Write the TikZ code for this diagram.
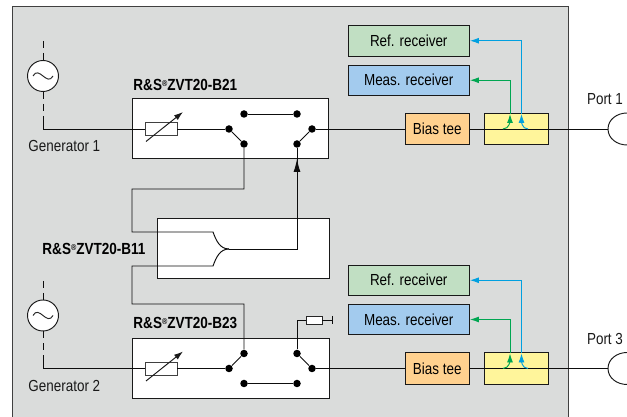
\documentclass[tikz,border=0pt]{standalone}
\usepackage{fontspec}
\setmainfont[FakeStretch=0.84]{Liberation Sans}
\usepackage{xcolor}
\usetikzlibrary{arrows.meta,calc}
\definecolor{panelgray}{RGB}{218,220,219}
\definecolor{refgreen}{RGB}{193,223,195}
\definecolor{measblue}{RGB}{163,203,238}
\definecolor{biasorange}{RGB}{255,209,143}
\definecolor{coupleryellow}{RGB}{255,245,155}
\definecolor{wireblue}{RGB}{0,160,224}
\definecolor{wiregreen}{RGB}{0,166,81}
\newcommand{\zvtlabel}[1]{R\&S\raisebox{0.5ex}{\fontsize{8.5}{9}\selectfont\textregistered}ZVT20-#1}

\begin{document}
\begin{tikzpicture}[x=1pt,y=1pt,line width=0.95pt,
    block/.style={draw=black!90, inner sep=0pt, text=black, font=\fontsize{16}{18}\selectfont, minimum height=30.5pt, align=center},
    module/.style={draw=black!90, fill=white, inner sep=0pt, minimum height=60pt},
    label/.style={inner sep=0pt, text=black!90, font=\fontsize{16}{18}\selectfont},
    optname/.style={inner sep=0pt, anchor=west, text=black, font=\bfseries\fontsize{16.1}{18}\selectfont},
    contact/.style={circle, fill=black, inner sep=0pt, minimum size=7.5pt},
    atten/.style={draw=black!75, fill=white, inner sep=0pt, minimum width=32pt, minimum height=13pt},
    source/.style={circle, draw=black!90, fill=white, inner sep=0pt, minimum size=31pt},
    wire/.style={black!95},
    tip/.style={-{Latex[length=9pt,width=6pt]}},
    bluewire/.style={wireblue, tip},
    greenwire/.style={wiregreen, tip}
]
    \useasboundingbox (0,0) rectangle (627,417);
    % housing
    \fill[panelgray] (12,0) rectangle (568,411);
    \draw[black!75] (12,0) -- (12,411) -- (568,411) -- (568,0);

    % option boxes
    \node[module, minimum width=196.7pt] (bA) at (230.4,288.75) {};
    \node[module, minimum width=171.5pt] (bB) at (243.25,169) {};
    \node[module, minimum width=197pt] (bC) at (230.5,49) {};
    \node[optname] (nameA) at (133,332) {\zvtlabel{B21}};
    \node[optname] (nameB) at (42,168) {\zvtlabel{B11}};
    \node[optname] (nameC) at (133,94) {\zvtlabel{B23}};

    % receivers and couplers
    \node[block, fill=refgreen, minimum width=121.5pt] (refA) at (408.75,376.25) {Ref. receiver};
    \node[block, fill=measblue, minimum width=121.5pt] (measA) at (408.75,336.75) {Meas. receiver};
    \node[block, fill=biasorange, minimum width=64.5pt, minimum height=31.5pt] (teeA) at (437.25,288) {Bias tee};
    \node[block, fill=coupleryellow, minimum width=64.5pt, minimum height=31.5pt] (cplA) at (516.25,288) {};
    \node[block, fill=refgreen, minimum width=121.5pt] (refB) at (408.75,136.75) {Ref. receiver};
    \node[block, fill=measblue, minimum width=121.5pt] (measB) at (408.75,97.5) {Meas. receiver};
    \node[block, fill=biasorange, minimum width=64.5pt, minimum height=31.5pt] (teeB) at (437.25,48.5) {Bias tee};
    \node[block, fill=coupleryellow, minimum width=64.5pt, minimum height=31.5pt] (cplB) at (516.25,48.5) {};

    % generators
    \node[source] (genA) at (43,341) {};
    \node[source] (genB) at (43,101.5) {};
    \draw[black!85] ($(genA)+(-10,0)$) .. controls ($(genA)+(-4,11)$) and ($(genA)+(4,-11)$) .. ($(genA)+(10,0)$);
    \draw[black!85] ($(genB)+(-10,0)$) .. controls ($(genB)+(-4,11)$) and ($(genB)+(4,-11)$) .. ($(genB)+(10,0)$);
    \node[label, anchor=west] (lblA) at (28,271) {Generator 1};
    \node[label, anchor=west] (lblB) at (28,31) {Generator 2};
    \coordinate (topA) at (43,376);
    \coordinate (topB) at (43,136);
    \coordinate (dropA) at (43,297);
    \coordinate (dropB) at (43,57.5);

    % attenuators
    \node[atten] (attA) at (161,288) {};
    \node[atten] (attB) at (161,48.5) {};

    % switch contacts B21
    \node[contact] (a1) at (229,288) {};
    \node[contact] (a2) at (244,273) {};
    \node[contact] (a3) at (244,303) {};
    \node[contact] (a4) at (297,303) {};
    \node[contact] (a5) at (297,273) {};
    \node[contact] (a6) at (312,288) {};
    % switch contacts B23
    \node[contact] (c1) at (229,48.5) {};
    \node[contact] (c2) at (244,63.5) {};
    \node[contact] (c3) at (244,33.5) {};
    \node[contact] (c4) at (297,33.5) {};
    \node[contact] (c5) at (297,63.5) {};
    \node[contact] (c6) at (312,48.5) {};

    % generator feeds
    \draw[wire, dashed, dash pattern=on 7pt off 5pt] (topA) -- (genA);
    \draw[wire, dashed, dash pattern=on 7pt off 5pt] (genA) -- (dropA);
    \draw[wire, dashed, dash pattern=on 7pt off 5pt] (topB) -- (genB);
    \draw[wire, dashed, dash pattern=on 7pt off 5pt] (genB) -- (dropB);
    \draw[wire] (dropA) |- (attA);
    \draw[wire] (dropB) |- (attB);
    \draw[wire] (attA) -- (a1);
    \draw[wire] (attB) -- (c1);
    \draw[wire] (a1) -- (a2);
    \draw[wire] (a3) -- (a4);
    \draw[wire] (a6) -- (a5);
    \draw[wire] (c1) -- (c2);
    \draw[wire] (c3) -- (c4);
    \draw[wire] (c6) -- (c5);
    \draw[tip, black!90] ($(attA)+(-15,-12.5)$) -- ($(attA)+(22,17)$);
    \draw[tip, black!90] ($(attB)+(-15,-12.5)$) -- ($(attB)+(22,17)$);

    % combiner in B11
    \coordinate (hybT) at (213,185);
    \coordinate (hybB) at (213,151);
    \coordinate (hybO) at (229,168);
    \draw[wire] (a2) |- (132,228) |- (hybT) to[out=-70,in=180] (hybO);
    \draw[wire] (c2) |- (132,113) |- (hybB) to[out=70,in=180] (hybO);
    \draw[wire] (hybO) -| (a5);
    \coordinate (upBase) at (297,240);
    \coordinate (upTip) at (297,258);
    \draw[-{Latex[length=13pt,width=7pt]}, black!95] (upBase) -- (upTip);

    % matched termination
    \node[draw=black!85, fill=white, inner sep=0pt, minimum width=16pt, minimum height=8pt] (load) at (314,97) {};
    \coordinate (gnd) at (332.5,97);
    \draw[wire] (c5) |- (load);
    \draw[wire] (load) -- (gnd);
    \draw[wire] ($(gnd)+(0,4)$) -- ($(gnd)+(0,-4)$);

    % through path
    \coordinate (portA) at (608,288);
    \coordinate (portB) at (608,48.5);
    \draw[wire] (a6) -- (teeA);
    \draw[wire] (c6) -- (teeB);
    \draw[wire] (teeA) -- (portA);
    \draw[wire] (teeB) -- (portB);
    \draw[black!90] (627,304) to[out=180,in=90] (portA) to[out=-90,in=180] (627,272);
    \draw[black!90] (627,64.5) to[out=180,in=90] (portB) to[out=-90,in=180] (627,32.5);
    \node[label] (lblPa) at (605,318) {Port 1};
    \node[label] (lblPb) at (605,78) {Port 3};

    % coupled outputs
    \coordinate (gA) at (503,288);
    \coordinate (gAu) at (510,303);
    \coordinate (bA1) at (528,288);
    \coordinate (bAu) at (521.5,303);
    \coordinate (gB) at (503,48.5);
    \coordinate (gBu) at (510,63.5);
    \coordinate (bB1) at (528,48.5);
    \coordinate (bBu) at (521.5,63.5);
    \draw[greenwire] (gA) to[out=0,in=-90] (gAu);
    \draw[greenwire] (gAu) |- (measA);
    \draw[bluewire] (bA1) to[out=180,in=-90] (bAu);
    \draw[bluewire] (bAu) |- (refA);
    \draw[greenwire] (gB) to[out=0,in=-90] (gBu);
    \draw[greenwire] (gBu) |- (measB);
    \draw[bluewire] (bB1) to[out=180,in=-90] (bBu);
    \draw[bluewire] (bBu) |- (refB);
\end{tikzpicture}
\end{document}
